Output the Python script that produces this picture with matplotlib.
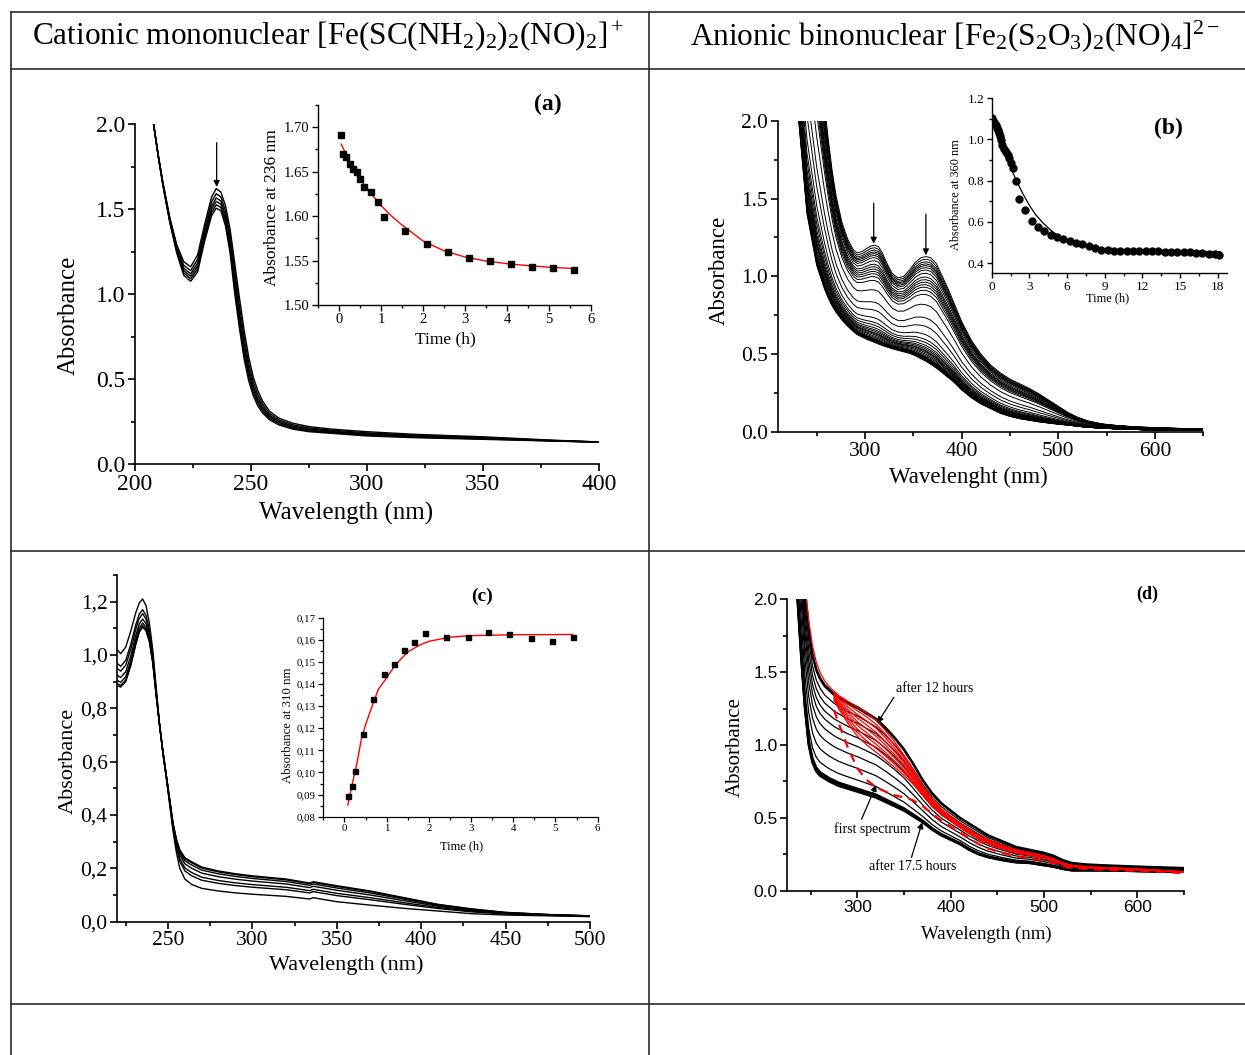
# -*- coding: utf-8 -*-
# Espectros UV-vis de los complejos de Fe-NO, tabla 2x2 con insets cineticos

import numpy as np
import matplotlib
matplotlib.use('Agg')
import matplotlib.pyplot as plt
from matplotlib.ticker import MultipleLocator, FuncFormatter
from matplotlib.lines import Line2D

plt.rcParams['font.family'] = 'Liberation Serif'
plt.rcParams['mathtext.fontset'] = 'custom'
plt.rcParams['mathtext.rm'] = 'Liberation Serif'
plt.rcParams['mathtext.it'] = 'Liberation Serif:italic'
plt.rcParams['mathtext.bf'] = 'Liberation Serif:bold'

# %% Datos

titulo_izq = r'Cationic mononuclear [Fe(SC(NH$_2$)$_2$)$_2$(NO)$_2$]$^+$'
titulo_der = r'Anionic binonuclear [Fe$_2$(S$_2$O$_3$)$_2$(NO)$_4$]$^{2-}$'

# (a) espectros: primer y ultimo espectro + maximo a 236 nm de cada uno
wl_a = [208, 210, 212, 215, 218, 221, 224, 227, 230, 233, 235, 237, 239, 241, 243, 245,
        247, 249, 251, 253, 255, 258, 262, 268, 275, 285, 300, 320, 350, 380, 400]
top_a = [2.0, 1.82, 1.66, 1.45, 1.29, 1.19, 1.16, 1.23, 1.41, 1.57, 1.62, 1.60, 1.52, 1.38,
         1.18, 0.98, 0.79, 0.63, 0.51, 0.43, 0.37, 0.31, 0.27, 0.24, 0.22, 0.205, 0.19,
         0.175, 0.16, 0.14, 0.13]
bot_a = [2.0, 1.81, 1.64, 1.42, 1.24, 1.11, 1.075, 1.13, 1.31, 1.46, 1.505, 1.49, 1.40, 1.24,
         1.0, 0.80, 0.62, 0.49, 0.40, 0.34, 0.30, 0.26, 0.23, 0.205, 0.19, 0.18, 0.165,
         0.155, 0.145, 0.135, 0.128]
picos_a = [1.62, 1.59, 1.565, 1.545, 1.525, 1.505]

# (a) inset
t_a = [0.04, 0.10, 0.17, 0.25, 0.33, 0.42, 0.50, 0.59, 0.76, 0.92, 1.08, 1.58, 2.09,
       2.59, 3.09, 3.59, 4.10, 4.60, 5.10, 5.59]
abs_a = [1.6917, 1.6696, 1.666, 1.6583, 1.6531, 1.6493, 1.6415, 1.6332, 1.6268, 1.6163,
         1.5987, 1.5829, 1.569, 1.5597, 1.5529, 1.5495, 1.5462, 1.5424, 1.5420, 1.5394]
tfit_a = [0.05, 0.25, 0.5, 0.75, 1.0, 1.25, 1.5, 2.0, 2.5, 3.0, 3.5, 4.0, 4.5, 5.0, 5.6]
fit_a = [1.681, 1.662, 1.642, 1.626, 1.612, 1.600, 1.590, 1.572, 1.561, 1.554, 1.5495,
         1.5465, 1.5443, 1.5425, 1.541]

# (b) espectros: primero (t=0) y ultimo (18 h)
wl_b = [230, 240, 250, 258, 262, 266, 270, 276, 282, 288, 292, 297, 302, 306, 310, 314,
        318, 323, 328, 334, 340, 346, 352, 358, 363, 368, 374, 380, 386, 392, 400, 410,
        420, 430, 440, 450, 460, 470, 480, 490, 500, 510, 520, 530, 545, 560, 580, 600,
        625, 650]
top_b = [4.0, 3.3, 2.6, 2.1, 1.88, 1.68, 1.52, 1.35, 1.24, 1.17, 1.15, 1.16, 1.18, 1.195,
         1.20, 1.19, 1.15, 1.08, 1.02, 0.99, 1.0, 1.04, 1.09, 1.12, 1.127, 1.12, 1.08, 1.0,
         0.92, 0.83, 0.71, 0.59, 0.50, 0.43, 0.38, 0.34, 0.31, 0.28, 0.245, 0.205, 0.165,
         0.125, 0.095, 0.072, 0.052, 0.042, 0.033, 0.028, 0.023, 0.02]
bot_b = [2.1, 1.4, 1.07, 0.92, 0.86, 0.81, 0.77, 0.72, 0.68, 0.645, 0.625, 0.61, 0.595,
         0.585, 0.575, 0.565, 0.555, 0.545, 0.535, 0.525, 0.515, 0.505, 0.49, 0.47, 0.455,
         0.435, 0.41, 0.38, 0.35, 0.32, 0.27, 0.22, 0.18, 0.15, 0.12, 0.10, 0.085, 0.075,
         0.065, 0.057, 0.05, 0.044, 0.037, 0.03, 0.025, 0.02, 0.016, 0.013, 0.011, 0.01]

# (b) inset, absorbancia a 360 nm
t_b = [0.05, 0.19, 0.32, 0.40, 0.48, 0.56, 0.64, 0.74, 0.82, 0.96, 1.12, 1.27, 1.38,
       1.51, 1.67, 1.94, 2.18, 2.68, 3.19, 3.69, 4.19, 4.70, 5.20, 5.71, 6.21, 6.72, 7.22,
       7.72, 8.23, 8.73, 9.24, 9.74, 10.24, 10.74, 11.25, 11.75, 12.25, 12.76, 13.26,
       13.76, 14.27, 14.77, 15.27, 15.78, 16.28, 16.78, 17.29, 17.79, 18.10]
abs_b = [1.103, 1.086, 1.070, 1.057, 1.046, 1.033, 1.018, 0.997, 0.973, 0.956, 0.940,
         0.924, 0.908, 0.888, 0.862, 0.797, 0.713, 0.659, 0.606, 0.575, 0.556, 0.538,
         0.525, 0.515, 0.505, 0.499, 0.491, 0.482, 0.473, 0.465, 0.461, 0.460, 0.459,
         0.459, 0.458, 0.458, 0.457, 0.456, 0.456, 0.455, 0.455, 0.455, 0.454, 0.452,
         0.451, 0.449, 0.446, 0.443, 0.438]
tfit_b = [0, 0.5, 1, 1.5, 2, 2.5, 3, 3.5, 4, 4.5, 5, 6, 7, 8, 9, 10, 12, 15, 18.2]
fit_b = [1.10, 1.02, 0.94, 0.865, 0.795, 0.735, 0.68, 0.635, 0.60, 0.57, 0.545, 0.51,
         0.49, 0.475, 0.467, 0.462, 0.458, 0.456, 0.455]

# (c) espectros: primero (pico alto) y ultimo
wl_c = [220, 222, 225, 228, 231, 233, 235, 237, 239, 241, 243, 245, 247, 249, 251, 253,
        255, 257, 260, 264, 270, 280, 290, 300, 320, 334, 336, 350, 370, 390, 410, 430,
        450, 475, 500]
first_c = [1.02, 1.005, 1.03, 1.09, 1.16, 1.195, 1.21, 1.185, 1.12, 1.02, 0.88, 0.74,
           0.63, 0.54, 0.44, 0.34, 0.26, 0.20, 0.16, 0.14, 0.125, 0.115, 0.108, 0.103,
           0.095, 0.085, 0.09, 0.075, 0.062, 0.05, 0.04, 0.03, 0.025, 0.022, 0.019]
last_c = [0.885, 0.88, 0.90, 0.96, 1.04, 1.085, 1.105, 1.09, 1.05, 0.97, 0.85, 0.74,
          0.64, 0.55, 0.46, 0.37, 0.31, 0.27, 0.24, 0.225, 0.205, 0.19, 0.18, 0.172,
          0.16, 0.145, 0.15, 0.135, 0.115, 0.09, 0.065, 0.048, 0.035, 0.027, 0.022]
picos_c = [1.21, 1.17, 1.155, 1.135, 1.12, 1.11, 1.105]

# (c) inset, absorbancia a 310 nm
t_c = [0.095, 0.175, 0.254, 0.43, 0.676, 0.938, 1.18, 1.415, 1.66, 1.915, 2.417, 2.917,
       3.41, 3.91, 4.41, 4.91, 5.405]
abs_c = [0.0893, 0.0937, 0.1005, 0.1174, 0.1331, 0.1445, 0.149, 0.1554, 0.159, 0.1632,
         0.1611, 0.1613, 0.1637, 0.1625, 0.1608, 0.1596, 0.1614]
tfit_c = [0.08, 0.2, 0.3, 0.4, 0.5, 0.6, 0.8, 1.0, 1.2, 1.5, 1.8, 2.0, 2.5, 3.0, 4.0, 5.4]
fit_c = [0.0853, 0.096, 0.1045, 0.115, 0.1215, 0.127, 0.1375, 0.1428, 0.1485, 0.1545,
         0.1578, 0.1593, 0.1612, 0.1619, 0.1623, 0.1624]

# (d) espectros negros (12 h -> 17.5 h) y rojos (primer espectro -> 12 h)
nan = np.nan
wl_d = [232, 236, 240, 244, 248, 252, 256, 260, 265, 270, 275, 280, 290, 300, 310, 320,
        330, 340, 350, 360, 370, 380, 390, 400, 410, 420, 430, 440, 455, 470, 485, 500,
        510, 520, 530, 545, 560, 580, 600, 625, 650]
bot_d = [2.6, 2.0, 1.6, 1.25, 1.0, 0.88, 0.82, 0.79, 0.77, 0.75, 0.735, 0.72, 0.70, 0.68,
         0.66, 0.64, 0.61, 0.58, 0.55, 0.51, 0.47, 0.42, 0.38, 0.35, 0.32, 0.28, 0.25,
         0.23, 0.21, 0.195, 0.19, 0.175, 0.165, 0.15, 0.14, 0.14, 0.14, 0.138, 0.135,
         0.132, 0.13]
top_d = [3.5, 3.0, 2.5, 2.05, 1.8, 1.62, 1.52, 1.46, 1.41, 1.38, 1.35, 1.33, 1.29, 1.26,
         1.22, 1.18, 1.12, 1.05, 0.97, 0.87, 0.76, 0.67, 0.60, 0.55, 0.50, 0.46, 0.42,
         0.38, 0.34, 0.30, 0.28, 0.26, 0.24, 0.21, 0.19, 0.18, 0.175, 0.17, 0.165, 0.16,
         0.155]
red_hi = [nan, nan, nan, 2.1, 1.85, 1.68, 1.57, 1.50, 1.44, 1.40, 1.37, 1.34, 1.30, 1.26,
          1.22, 1.17, 1.10, 1.02, 0.93, 0.83, 0.72, 0.63, 0.56, 0.51, 0.46, 0.42, 0.38,
          0.35, 0.31, 0.28, 0.26, 0.24, 0.22, 0.19, 0.175, 0.165, 0.16, 0.155, 0.15, 0.14,
          0.13]
red_lo = [nan, nan, nan, nan, nan, nan, nan, nan, nan, nan, 1.24, 1.15, 0.98, 0.84, 0.76,
          0.71, 0.68, 0.655, 0.64, 0.62, 0.58, 0.53, 0.48, 0.44, 0.40, 0.36, 0.32, 0.29,
          0.26, 0.235, 0.22, 0.205, 0.19, 0.17, 0.155, 0.15, 0.145, 0.14, 0.135, 0.13, 0.12]
negros_300 = [1.26, 1.25, 1.20, 1.15, 1.10, 1.05, 0.99, 0.92, 0.84, 0.76, 0.70, 0.69, 0.68]
rojos_300 = [1.235, 1.21, 1.185, 1.16, 1.135, 1.11, 1.085, 1.06]

# %% Funciones auxiliares

def caja(x0, y0, x1, y1):
    # pixeles de la imagen -> [left, bottom, width, height] en fraccion de figura
    return [x0/1245, 1 - y1/1055, (x1 - x0)/1245, (y1 - y0)/1055]


def estilo(ax, xmaj, xmin, ymaj, ymin, size, lw=1.2, largo=5):
    ax.spines['top'].set_visible(False)
    ax.spines['right'].set_visible(False)
    ax.spines['left'].set_linewidth(lw)
    ax.spines['bottom'].set_linewidth(lw)
    ax.xaxis.set_major_locator(MultipleLocator(xmaj))
    ax.xaxis.set_minor_locator(MultipleLocator(xmin))
    ax.yaxis.set_major_locator(MultipleLocator(ymaj))
    ax.yaxis.set_minor_locator(MultipleLocator(ymin))
    ax.tick_params(which='major', direction='out', length=largo, width=lw, labelsize=size,
                   pad=2)
    ax.tick_params(which='minor', direction='out', length=largo*0.6, width=lw)


def mezcla(alto, bajo, w):
    return np.array(bajo) + w*(np.array(alto) - np.array(bajo))


flecha = dict(arrowstyle='-|>', color='k', lw=0.9, mutation_scale=9, shrinkA=0, shrinkB=0)

fig = plt.figure(figsize=(12.45, 10.55), dpi=100)

# %% Tabla y encabezados

lc = '#2b2b2b'
for yy in [12, 69, 551, 1004]:
    fig.add_artist(Line2D([11/1245, 1], [1 - yy/1055]*2, transform=fig.transFigure,
                          color=lc, lw=1.2))
for xx in [11, 649]:
    fig.add_artist(Line2D([xx/1245]*2, [1 - 12/1055, 0], transform=fig.transFigure,
                          color=lc, lw=1.2))
fig.text(32/1245, 1 - 36/1055, titulo_izq, fontsize=22.5, va='center', ha='left')
fig.text(690/1245, 1 - 36/1055, titulo_der, fontsize=22.5, va='center', ha='left')

# %% Panel (a)

ax = fig.add_axes(caja(135, 124, 599, 464))
for p in picos_a:
    w = (p - picos_a[-1])/(picos_a[0] - picos_a[-1])
    ax.plot(wl_a, mezcla(top_a, bot_a, w), color='k', lw=1.0)
ax.set_xlim(200, 400)
ax.set_ylim(0, 2.0)
estilo(ax, 50, 25, 0.5, 0.25, 17)
ax.yaxis.set_major_formatter(FuncFormatter(lambda v, p: f'{v:.1f}'))
ax.set_xlabel('Wavelength (nm)', fontsize=18)
ax.set_ylabel('Absorbance', fontsize=18)
ax.xaxis.set_label_coords(0.455, -0.112)
ax.yaxis.set_label_coords(-0.118, 0.438)
ax.annotate('', xy=(235.2, 1.63), xytext=(235.2, 1.89), arrowprops=flecha)
# la etiqueta va sobre el inset, por eso en la figura
fig.text(548/1245, 1 - 104/1055, '(a)', fontsize=17, fontweight='bold',
         ha='center', va='center', zorder=10)

ins = fig.add_axes(caja(318, 105, 591, 305))
ins.plot(tfit_a, fit_a, color='red', lw=1.0)
ins.plot(t_a, abs_a, 's', color='k', ms=4.3)
ins.set_xlim(-0.5, 6)
ins.set_ylim(1.5, 1.725)
ins.patch.set_alpha(0)
estilo(ins, 1, 0.5, 0.05, 0.025, 10.5, lw=1.0, largo=4)
ins.yaxis.set_major_formatter(FuncFormatter(lambda v, p: f'{v:.2f}'))
ins.set_xlabel('Time (h)', fontsize=12.5)
ins.set_ylabel('Absorbance at 236 nm', fontsize=12.5)
ins.xaxis.set_label_coords(0.465, -0.13)
ins.yaxis.set_label_coords(-0.139, 0.485)

# %% Panel (b)

ax = fig.add_axes(caja(778, 120.7, 1203.3, 432))
for a in abs_b:
    w = (a - abs_b[-1])/(abs_b[0] - abs_b[-1])
    ax.plot(wl_b, mezcla(top_b, bot_b, w), color='k', lw=0.7)
ax.set_xlim(210, 650)
ax.set_ylim(0, 2.0)
estilo(ax, 100, 50, 0.5, 0.25, 15.5)
ax.yaxis.set_major_formatter(FuncFormatter(lambda v, p: f'{v:.1f}'))
ax.set_xlabel('Wavelenght (nm)', fontsize=16.5)
ax.set_ylabel('Absorbance', fontsize=16.5)
ax.xaxis.set_label_coords(0.447, -0.112)
ax.yaxis.set_label_coords(-0.113, 0.52)
ax.annotate('', xy=(309, 1.21), xytext=(309, 1.47), arrowprops=flecha)
ax.annotate('', xy=(363, 1.135), xytext=(363, 1.40), arrowprops=flecha)
fig.text(1168/1245, 1 - 128/1055, '(b)', fontsize=17, fontweight='bold',
         ha='center', va='center', zorder=10)

ins = fig.add_axes(caja(991.7, 98.3, 1226.6, 273.3))
ins.plot(tfit_b, fit_b, color='k', lw=0.9)
ins.plot(t_b, abs_b, 'o', color='k', ms=5)
ins.set_xlim(0, 18.7)
ins.set_ylim(0.35, 1.2)
ins.patch.set_alpha(0)
estilo(ins, 3, 1.5, 0.2, 0.1, 9.5, lw=1.0, largo=3.5)
ins.yaxis.set_major_formatter(FuncFormatter(lambda v, p: f'{v:.1f}'))
ins.set_xlabel('Time (h)', fontsize=9)
ins.set_ylabel('Absorbance at 360 nm', fontsize=8.8)
ins.xaxis.set_label_coords(0.495, -0.107)
ins.yaxis.set_label_coords(-0.126, 0.447)

# %% Panel (c)

ax = fig.add_axes(caja(117.3, 575, 590, 921.7))
for p in picos_c:
    w = (p - picos_c[-1])/(picos_c[0] - picos_c[-1])
    ax.plot(wl_c, mezcla(first_c, last_c, w), color='k', lw=1.0)
ax.set_xlim(220, 500)
ax.set_ylim(0, 1.3)
estilo(ax, 50, 25, 0.2, 0.1, 15.5)
ax.yaxis.set_major_formatter(FuncFormatter(lambda v, p: f'{v:.1f}'.replace('.', ',')))
ax.set_xlabel('Wavelength (nm)', fontsize=16)
ax.set_ylabel('Absorbance', fontsize=16)
ax.xaxis.set_label_coords(0.484, -0.096)
ax.yaxis.set_label_coords(-0.083, 0.463)

ins = fig.add_axes(caja(323.3, 617.7, 597.7, 816.7))
ins.plot(tfit_c, fit_c, color='red', lw=1.0)
ins.plot(t_c, abs_c, 's', color='k', ms=3.6)
ins.set_xlim(-0.5, 6)
ins.set_ylim(0.08, 0.17)
ins.patch.set_alpha(0)
estilo(ins, 1, 0.5, 0.01, 0.005, 7.8, lw=0.9, largo=3.5)
ins.yaxis.set_major_formatter(FuncFormatter(lambda v, p: f'{v:.2f}'.replace('.', ',')))
ins.set_xlabel('Time (h)', fontsize=9)
ins.set_ylabel('Absorbance at 310 nm', fontsize=9.2)
ins.xaxis.set_label_coords(0.505, -0.117)
ins.yaxis.set_label_coords(-0.107, 0.46)
fig.text(482/1245, 1 - 596/1055, '(c)', fontsize=14, fontweight='bold',
         ha='center', va='center', zorder=10)

# %% Panel (d)

ax = fig.add_axes(caja(787.3, 599.3, 1184, 890.7))
for i, v in enumerate(negros_300):
    w = (v - negros_300[-1])/(negros_300[0] - negros_300[-1])
    grueso = 1.8 if (i < 1 or i >= len(negros_300) - 3) else 0.9
    ax.plot(wl_d, mezcla(top_d, bot_d, w), color='k', lw=grueso)
ax.plot(wl_d, red_hi, color='red', lw=0.9)
for v in rojos_300:
    w = (v - 0.84)/(1.26 - 0.84)
    ax.plot(wl_d, mezcla(red_hi, red_lo, w), color='red', lw=0.9)
ax.plot(wl_d, red_lo, color='red', lw=1.6, dashes=(4, 3))
ax.set_xlim(225, 650)
ax.set_ylim(0, 2.0)
estilo(ax, 100, 50, 0.5, 0.25, 12.5)
ax.tick_params(labelfontfamily='Liberation Sans')
ax.yaxis.set_major_formatter(FuncFormatter(lambda v, p: f'{v:.1f}'))
ax.set_xlabel('Wavelength (nm)', fontsize=13.5)
ax.set_ylabel('Absorbance', fontsize=15)
ax.xaxis.set_label_coords(0.501, -0.121)
ax.yaxis.set_label_coords(-0.107, 0.493)
ax.annotate('after 12 hours', xy=(321.4, 1.15), xytext=(341, 1.39), fontsize=10,
            ha='left', va='center',
            arrowprops=dict(flecha, relpos=(0.0, 0.0)))
ax.annotate('first spectrum', xy=(320.3, 0.726), xytext=(316.4, 0.424), fontsize=10,
            ha='center', va='center',
            arrowprops=dict(flecha, relpos=(0.34, 1.0)))
ax.annotate('after 17.5 hours', xy=(369.6, 0.47), xytext=(359, 0.165), fontsize=10,
            ha='center', va='center',
            arrowprops=dict(flecha, relpos=(0.48, 1.0)))
ax.text(0.907, 1.018, '(d)', transform=ax.transAxes, fontsize=13, fontweight='bold',
        ha='center', va='center')

fig.savefig('out.png', dpi=100)
